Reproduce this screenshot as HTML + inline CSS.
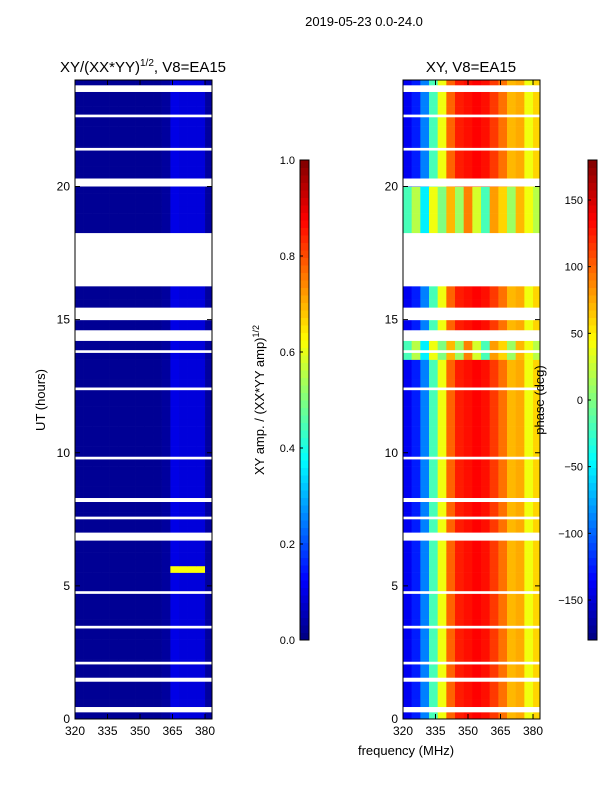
<!DOCTYPE html>
<html><head><meta charset="utf-8"><style>
body{margin:0;background:#fff;font-family:"Liberation Sans",sans-serif}
svg text{font-family:"Liberation Sans",sans-serif;fill:#000}
</style></head><body>
<svg id="fig" width="600" height="800" xmlns="http://www.w3.org/2000/svg">
<defs>
<clipPath id="c1"><rect x="75" y="80" width="137" height="639"/></clipPath>
<clipPath id="c2"><rect x="403" y="80" width="137" height="639"/></clipPath>
</defs>
<text x="364" y="26" font-size="13" text-anchor="middle">2019-05-23 0.0-24.0</text>
<text x="143" y="72" font-size="15" text-anchor="middle">XY/(XX*YY)<tspan font-size="10" dy="-6">1/2</tspan><tspan dy="6">, V8=EA15</tspan></text>
<text x="471" y="72" font-size="15" text-anchor="middle">XY, V8=EA15</text>
<text x="406" y="755" font-size="13" text-anchor="middle">frequency (MHz)</text>
<text transform="translate(45,400) rotate(-90)" font-size="13" text-anchor="middle">UT (hours)</text>
<text transform="translate(264,400) rotate(-90)" font-size="13" text-anchor="middle">XY amp. / (XX*YY amp)<tspan font-size="9" dy="-5">1/2</tspan></text>
<g id="g"></g>
<text transform="translate(544,400) rotate(-90)" font-size="13" text-anchor="middle">phase (deg)</text>
</svg>
<script>
const freqBins=[320,324,328,332,336,340,344,348,352,356,360,364,368,372,376,380];
const ampProfile=[0.02,0.02,0.02,0.02,0.02,0.02,0.02,0.02,0.02,0.02,0.03,0.1,0.09,0.09,0.09,0.03];
const phaseProfile=[-140,-125,-90,-20,40,100,125,130,135,130,115,95,70,75,40,60];
const phaseNoisy=[-20,20,-50,40,0,70,10,90,30,-20,80,60,10,70,40,20];
const noisyBands=[[18.3,20.0],[13.6,14.4]];
const brightBands=[[5.4,5.7]];
const blankIntervals=[[23.55,23.8],[22.6,22.7],[21.35,21.45],[20.0,20.3],[16.25,18.25],[14.98,15.45],[14.2,14.6],[13.75,13.85],[12.35,12.45],[9.75,9.85],[8.15,8.3],[7.5,7.6],[6.7,7.0],[4.7,4.8],[3.4,3.5],[2.05,2.15],[1.4,1.55],[0.25,0.45]];
const yTicks=[0,5,10,15,20];
const xTicks=[320,335,350,365,380];
const ampTicks=[0.0,0.2,0.4,0.6,0.8,1.0];
const phaseTicks=[-150,-100,-50,0,50,100,150];

const NS="http://www.w3.org/2000/svg";
const root=document.getElementById('g');
let g=root;
function mk(t,a){const e=document.createElementNS(NS,t);for(const k in a)e.setAttribute(k,a[k]);g.appendChild(e);return e;}
function jet(v){v=Math.max(0,Math.min(1,v));const r=Math.max(0,Math.min(1,1.5-Math.abs(4*v-3))),gg=Math.max(0,Math.min(1,1.5-Math.abs(4*v-2))),b=Math.max(0,Math.min(1,1.5-Math.abs(4*v-1)));return `rgb(${Math.round(r*255)},${Math.round(gg*255)},${Math.round(b*255)})`;}
const yB=719,yTop=80;
function ys(h){return yB-(h/24)*(yB-yTop);}
function xs(p,f){return p+(f-320)*2.167;}
const inBand=(h,arr)=>arr.some(b=>h>=b[0]&&h<b[1]);
const panels=[{x:75,kind:'amp',clip:'c1'},{x:403,kind:'phase',clip:'c2'}];
const dt=0.25;
panels.forEach(P=>{
  g=root;
  const cg=mk('g',{'clip-path':`url(#${P.clip})`});
  
  
  g=cg;
  for(let h=0;h<24;h+=dt){
    const hm=h+dt/2;
    freqBins.forEach((f,i)=>{
      let v;
      if(P.kind==='amp'){v=ampProfile[i];if(inBand(hm,brightBands)&&i>=11&&i<15)v=0.62;}
      else{let p=inBand(hm,noisyBands)?phaseNoisy[i]:phaseProfile[i];v=(p+180)/360;}
      const c=mk('rect',{x:xs(P.x,f),y:ys(h+dt),width:4*2.167+0.3,height:ys(h)-ys(h+dt)+0.3,fill:jet(v)});
      
      
    });
  }
  blankIntervals.forEach(b=>{
    const r=mk('rect',{x:P.x,y:ys(b[1]),width:137,height:ys(b[0])-ys(b[1]),fill:'#fff'});
    
    
  });
  g=root;
  const fr=mk('rect',{x:P.x,y:yTop,width:137,height:yB-yTop,fill:'none',stroke:'#000','stroke-width':1});
  
  
  yTicks.forEach(t=>{
    mk('line',{x1:P.x,x2:P.x+5,y1:ys(t),y2:ys(t),stroke:'#000'});
    mk('line',{x1:P.x+137,x2:P.x+132,y1:ys(t),y2:ys(t),stroke:'#000'});
    const l=mk('text',{x:P.x-5,y:ys(t)+4,'font-size':12,'text-anchor':'end'});l.textContent=t;
    
    
  });
  xTicks.forEach(t=>{
    mk('line',{x1:xs(P.x,t),x2:xs(P.x,t),y1:yB,y2:yB-5,stroke:'#000'});
    mk('line',{x1:xs(P.x,t),x2:xs(P.x,t),y1:yTop,y2:yTop+5,stroke:'#000'});
    const l=mk('text',{x:xs(P.x,t),y:yB+16,'font-size':12,'text-anchor':'middle'});l.textContent=t;
    
    
  });
});
g=root;
[{x:300,ticks:ampTicks,min:0,max:1,fmt:v=>v.toFixed(1)},{x:588,ticks:phaseTicks,min:-180,max:180,fmt:v=>v<0?'\u2212'+(-v):''+v}].forEach(C=>{
  const n=64;
  for(let k=0;k<n;k++){
    const r=mk('rect',{x:C.x,y:640-(k+1)*480/n,width:9,height:480/n+0.5,fill:jet((k+0.5)/n)});
    
    
  }
  const f=mk('rect',{x:C.x,y:160,width:9,height:480,fill:'none',stroke:'#000'});
  
  
  C.ticks.forEach(t=>{
    const y=640-(t-C.min)/(C.max-C.min)*480;
    mk('line',{x1:C.x,x2:C.x+3,y1:y,y2:y,stroke:'#000'});
    const l=mk('text',{x:C.x-5,y:y+4,'font-size':11,'text-anchor':'end'});l.textContent=C.fmt(t);
    
    
  });
});
</script>
</body></html>
